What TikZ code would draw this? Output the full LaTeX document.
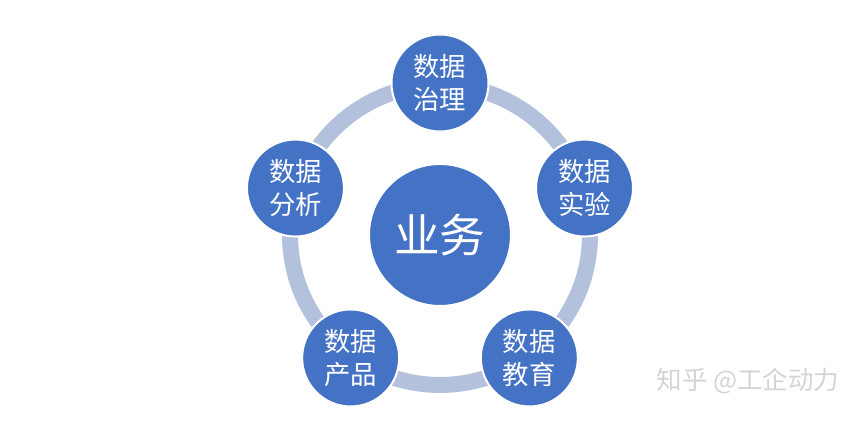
\documentclass[tikz,border=0pt]{standalone}
\usepackage{fontspec}
\newfontfamily\cjk{Noto Sans CJK SC}
\usepackage{xcolor}
\usepackage{tikz}
\usetikzlibrary{positioning}

\definecolor{ballblue}{HTML}{4472C4}
\definecolor{ringblue}{HTML}{B4C1DD}
\definecolor{markgray}{HTML}{D4D4D4}

\begin{document}
\begin{tikzpicture}[x=0.02cm,y=0.02cm,font=\cjk,
	ball/.style={circle,fill=ballblue,draw=white,line width=0.04cm,inner sep=0pt,
		minimum size=1.94cm,text=white,align=center,
		font=\cjk\fontsize{15}{18.5}\selectfont},
	bigball/.style={ball,minimum size=2.84cm,font=\cjk\fontsize{26}{30}\selectfont}]

			\useasboundingbox (-440,-195) rectangle (413,235);

			\draw[ringblue, line width=0.32cm] (0,0) circle (3cm);

			\node[bigball] (yw) at (0, 0) {业务};
			\node[ball] (zl) at (90:152) {数据\\治理};
			\node[ball] (sy) at (18:152) {数据\\实验};
			\node[ball] (jy) at (-54:152) {数据\\教育};
			\node[ball] (cp) at (234:152) {数据\\产品};
			\node[ball] (fx) at (162:152) {数据\\分析};

			\node[text=markgray,font=\cjk\fontsize{14.5}{17}\selectfont] (mark) at (308, -146) {知乎 @工企动力};

		\end{tikzpicture}
\end{document}
